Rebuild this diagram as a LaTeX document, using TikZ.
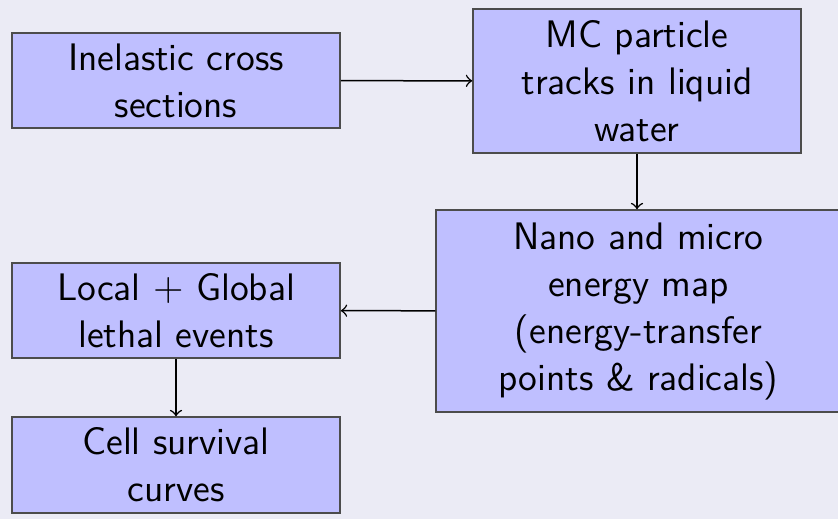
\documentclass[tikz,border=0pt]{standalone}
\usepackage{fontspec}
\definecolor{fond}{RGB}{235,235,245}
\definecolor{boite}{RGB}{191,191,255}
\begin{document}
\begin{tikzpicture}[x=0.3pt,y=-0.3pt,
    box/.style={draw=black!70,fill=boite,line width=0.45pt,align=center,
        inner sep=0pt,font=\sffamily\fontsize{11.5}{14.1}\selectfont},
    fleche/.style={->,line width=0.45pt}]
    \fill [fond](0,0) rectangle (838,519);
    \clip (0,0) rectangle (838,519);
    \node [box,minimum width=98.4pt,minimum height=28.5pt] (cross) at (176,80.5) {Inelastic cross\\sections};
    \node [box,minimum width=98.4pt,minimum height=43.2pt] (tracks) at (637,81) {MC particle\\tracks in liquid\\water};
    \node [box,minimum width=121.5pt,minimum height=60.6pt] (map) at (638.5,311) {Nano and micro\\energy map\\(energy-transfer\\points \& radicals)};
    \node [box,minimum width=98.4pt,minimum height=28.5pt] (lethal) at (176,310.5) {Local $+$ Global\\lethal events};
    \node [box,minimum width=98.4pt,minimum height=28.8pt] (survival) at (176,465) {Cell survival\\curves};
    \draw [fleche](cross) -- (tracks);
    \draw [fleche](tracks) -- (tracks |- map.north);
    \draw [fleche](map) -- (lethal);%de droite a gauche
    \draw [fleche](lethal) -- (survival);
\end{tikzpicture}
\end{document}
